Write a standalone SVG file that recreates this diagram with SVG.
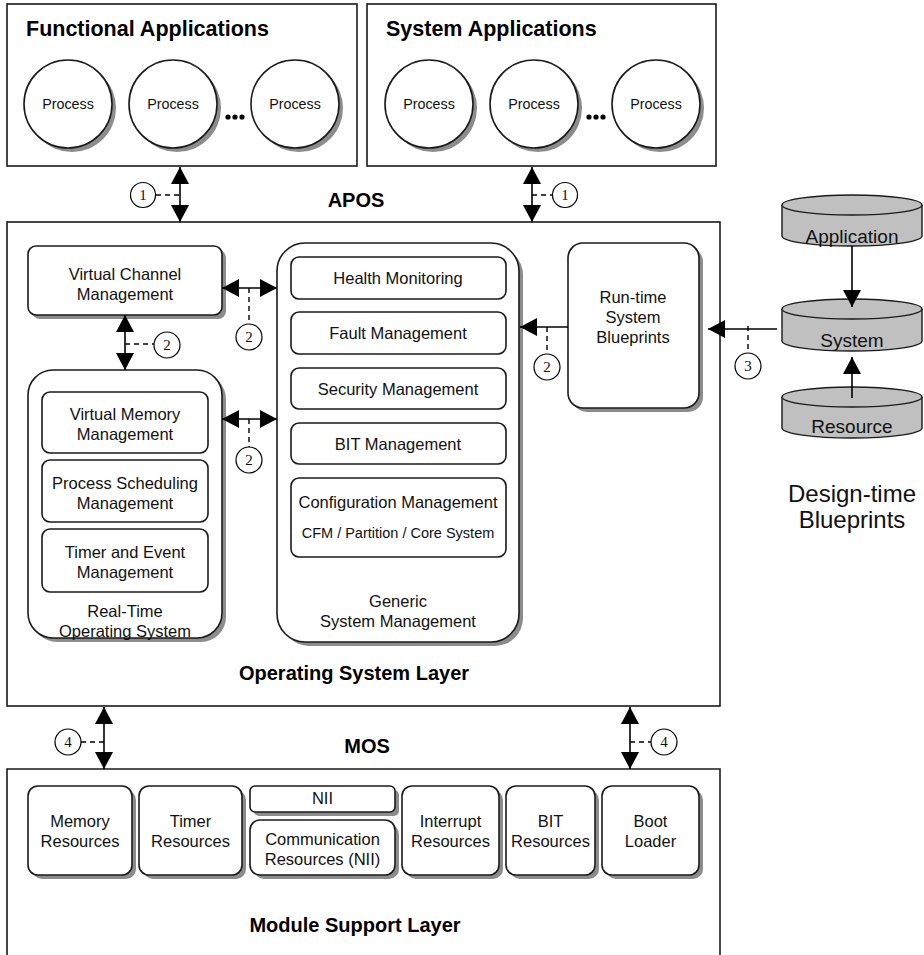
<svg xmlns="http://www.w3.org/2000/svg" width="924" height="955" viewBox="0 0 924 955">
<defs>
<style>
.box{fill:#fff;stroke:#1a1a1a;stroke-width:1.6}
.sh{fill:#8c8c8c;stroke:none}
.t{font-family:"Liberation Sans",Arial,sans-serif;font-size:16.5px;fill:#111;text-anchor:middle}
.tp{font-family:"Liberation Sans",Arial,sans-serif;font-size:14.3px;fill:#111;text-anchor:middle}
.ts{font-family:"Liberation Sans",Arial,sans-serif;font-size:14.5px;fill:#111;text-anchor:middle}
.tb{font-family:"Liberation Sans",Arial,sans-serif;font-size:20px;font-weight:bold;fill:#000;text-anchor:middle}
.th{font-family:"Liberation Sans",Arial,sans-serif;font-size:21.5px;font-weight:bold;fill:#000}
.tc{font-family:"Liberation Sans",Arial,sans-serif;font-size:19px;fill:#111;text-anchor:middle}
.td{font-family:"Liberation Sans",Arial,sans-serif;font-size:24px;fill:#111;text-anchor:middle}
.num{font-family:"Liberation Serif","Times New Roman",serif;font-size:15px;fill:#111;text-anchor:middle}
.ln{stroke:#000;stroke-width:1.6;fill:none}
.dl{stroke:#000;stroke-width:1.4;fill:none;stroke-dasharray:5,4}
.nc{fill:#fff;stroke:#000;stroke-width:1.2}
.cyl{fill:#c0c0c0;stroke:#1a1a1a;stroke-width:1.4}
.dot{fill:#000}
</style>
<marker id="ah" viewBox="0 0 17 18" refX="17" refY="9" markerWidth="17" markerHeight="18" markerUnits="userSpaceOnUse" orient="auto-start-reverse">
<path d="M0,0 L17,9 L0,18 z" fill="#000"/>
</marker>
</defs>
<rect width="924" height="955" fill="#fff"/>

<g id="functional-applications">
<rect class="box" x="7" y="4" width="350" height="162"/>
<text class="th" x="26" y="36">Functional Applications</text>
<circle class="sh" cx="72" cy="108" r="44"/>
<circle class="box" cx="68" cy="104" r="44"/>
<text class="tp" x="68" y="109">Process</text>
<circle class="sh" cx="177" cy="108" r="44"/>
<circle class="box" cx="173" cy="104" r="44"/>
<text class="tp" x="173" y="109">Process</text>
<circle class="dot" cx="228" cy="117" r="2.6"/>
<circle class="dot" cx="235" cy="117" r="2.6"/>
<circle class="dot" cx="242" cy="117" r="2.6"/>
<circle class="sh" cx="299" cy="108" r="44"/>
<circle class="box" cx="295" cy="104" r="44"/>
<text class="tp" x="295" y="109">Process</text>
</g>

<g id="system-applications">
<rect class="box" x="367" y="4" width="349" height="162"/>
<text class="th" x="386" y="36">System Applications</text>
<circle class="sh" cx="433" cy="108" r="44"/>
<circle class="box" cx="429" cy="104" r="44"/>
<text class="tp" x="429" y="109">Process</text>
<circle class="sh" cx="538" cy="108" r="44"/>
<circle class="box" cx="534" cy="104" r="44"/>
<text class="tp" x="534" y="109">Process</text>
<circle class="dot" cx="589" cy="117" r="2.6"/>
<circle class="dot" cx="596" cy="117" r="2.6"/>
<circle class="dot" cx="603" cy="117" r="2.6"/>
<circle class="sh" cx="660" cy="108" r="44"/>
<circle class="box" cx="656" cy="104" r="44"/>
<text class="tp" x="656" y="109">Process</text>
</g>

<text class="tb" x="356" y="207">APOS</text>

<g id="operating-system-layer">
<rect class="box" x="7" y="222" width="713" height="484"/>
<text class="tb" x="354" y="680">Operating System Layer</text>
</g>

<g id="virtual-channel-management">
<rect class="sh" x="32" y="250" width="194" height="69" rx="8"/>
<rect class="box" x="28" y="246" width="194" height="69" rx="8"/>
<text class="t" x="125" y="280">Virtual Channel</text>
<text class="t" x="125" y="300">Management</text>
</g>

<g id="rtos">
<rect class="sh" x="32" y="374" width="194" height="268" rx="25"/>
<rect class="box" x="28" y="370" width="194" height="268" rx="25"/>
<text class="t" x="125" y="617">Real-Time</text>
<text class="t" x="125" y="637">Operating System</text>
</g>
<g id="virtual-memory-management">
<rect class="box" x="42" y="392" width="166" height="61" rx="8"/>
<text class="t" x="125" y="420">Virtual Memory</text>
<text class="t" x="125" y="440">Management</text>
</g>
<g id="process-scheduling-management">
<rect class="box" x="42" y="460" width="166" height="62" rx="8"/>
<text class="t" x="125" y="489">Process Scheduling</text>
<text class="t" x="125" y="509">Management</text>
</g>
<g id="timer-event-management">
<rect class="box" x="42" y="529" width="166" height="63" rx="8"/>
<text class="t" x="125" y="558">Timer and Event</text>
<text class="t" x="125" y="578">Management</text>
</g>

<g id="generic-system-management">
<rect class="sh" x="281" y="247" width="242" height="399" rx="28"/>
<rect class="box" x="277" y="243" width="242" height="399" rx="28"/>
<text class="t" x="398" y="607">Generic</text>
<text class="t" x="398" y="627">System Management</text>
</g>
<g id="health-monitoring">
<rect class="box" x="291" y="257" width="215" height="42" rx="8"/>
<text class="t" x="398" y="284">Health Monitoring</text>
</g>
<g id="fault-management">
<rect class="box" x="291" y="312" width="215" height="42" rx="8"/>
<text class="t" x="398" y="339">Fault Management</text>
</g>
<g id="security-management">
<rect class="box" x="291" y="368" width="215" height="41" rx="8"/>
<text class="t" x="398" y="394.5">Security Management</text>
</g>
<g id="bit-management">
<rect class="box" x="291" y="423" width="215" height="41" rx="8"/>
<text class="t" x="398" y="449.5">BIT Management</text>
</g>
<g id="configuration-management">
<rect class="box" x="291" y="478" width="215" height="79" rx="8"/>
<text class="t" x="398" y="508">Configuration Management</text>
<text class="ts" x="398" y="538">CFM / Partition / Core System</text>
</g>

<g id="runtime-system-blueprints">
<rect class="sh" x="572" y="247" width="131" height="165" rx="15"/>
<rect class="box" x="568" y="243" width="131" height="165" rx="15"/>
<text class="t" x="633" y="303">Run-time</text>
<text class="t" x="633" y="323">System</text>
<text class="t" x="633" y="343">Blueprints</text>
</g>

<g id="application-db">
<path class="cyl" d="M782,205 L782,236 A70,10 0 0 0 922,236 L922,205"/>
<ellipse class="cyl" cx="852" cy="205" rx="70" ry="10"/>
<text class="tc" x="852" y="243">Application</text>
</g>
<g id="system-db">
<path class="cyl" d="M782,309 L782,341 A70,10 0 0 0 922,341 L922,309"/>
<ellipse class="cyl" cx="852" cy="309" rx="70" ry="10"/>
<text class="tc" x="852" y="347">System</text>
</g>
<g id="resource-db">
<path class="cyl" d="M782,397 L782,428 A70,10 0 0 0 922,428 L922,397"/>
<ellipse class="cyl" cx="852" cy="397" rx="70" ry="10"/>
<text class="tc" x="852" y="433">Resource</text>
</g>
<g id="design-time-label">
<text class="td" x="852" y="502">Design-time</text>
<text class="td" x="852" y="528">Blueprints</text>
</g>

<text class="tb" x="367" y="753">MOS</text>

<g id="module-support-layer">
<path class="box" d="M7,960 L7,769 L720,769 L720,960"/>
<text class="tb" x="355" y="932">Module Support Layer</text>
</g>
<g id="memory-resources">
<rect class="sh" x="32" y="790" width="104" height="89" rx="10"/>
<rect class="box" x="28" y="786" width="104" height="89" rx="10"/>
<text class="t" x="80" y="827">Memory</text>
<text class="t" x="80" y="847">Resources</text>
</g>
<g id="timer-resources">
<rect class="sh" x="143" y="790" width="103" height="89" rx="10"/>
<rect class="box" x="139" y="786" width="103" height="89" rx="10"/>
<text class="t" x="190.5" y="827">Timer</text>
<text class="t" x="190.5" y="847">Resources</text>
</g>
<g id="nii">
<rect class="sh" x="254" y="790" width="145" height="26" rx="5"/>
<rect class="box" x="250" y="786" width="145" height="26" rx="5"/>
<text class="t" x="322.5" y="804">NII</text>
</g>
<g id="communication-resources">
<rect class="sh" x="254" y="824" width="145" height="55" rx="10"/>
<rect class="box" x="250" y="820" width="145" height="55" rx="10"/>
<text class="t" x="322.5" y="845">Communication</text>
<text class="t" x="322.5" y="865">Resources (NII)</text>
</g>
<g id="interrupt-resources">
<rect class="sh" x="406" y="790" width="97" height="89" rx="10"/>
<rect class="box" x="402" y="786" width="97" height="89" rx="10"/>
<text class="t" x="450.5" y="827">Interrupt</text>
<text class="t" x="450.5" y="847">Resources</text>
</g>
<g id="bit-resources">
<rect class="sh" x="510" y="790" width="89" height="89" rx="10"/>
<rect class="box" x="506" y="786" width="89" height="89" rx="10"/>
<text class="t" x="550.5" y="827">BIT</text>
<text class="t" x="550.5" y="847">Resources</text>
</g>
<g id="boot-loader">
<rect class="sh" x="606" y="790" width="97" height="89" rx="10"/>
<rect class="box" x="602" y="786" width="97" height="89" rx="10"/>
<text class="t" x="650.5" y="827">Boot</text>
<text class="t" x="650.5" y="847">Loader</text>
</g>

<g id="connectors">
<!-- APOS -->
<line class="ln" x1="180" y1="167" x2="180" y2="222" marker-start="url(#ah)" marker-end="url(#ah)"/>
<line class="dl" x1="156" y1="195" x2="180" y2="195"/>
<circle class="nc" cx="143" cy="195" r="12.5"/>
<text class="num" x="143" y="200">1</text>
<line class="ln" x1="532" y1="167" x2="532" y2="222" marker-start="url(#ah)" marker-end="url(#ah)"/>
<line class="dl" x1="532" y1="195" x2="552" y2="195"/>
<circle class="nc" cx="565" cy="195" r="12.5"/>
<text class="num" x="565" y="200">1</text>
<!-- VCM - RTOS -->
<line class="ln" x1="125" y1="315" x2="125" y2="370" marker-start="url(#ah)" marker-end="url(#ah)"/>
<line class="dl" x1="125" y1="344" x2="154" y2="344"/>
<circle class="nc" cx="167" cy="345" r="13"/>
<text class="num" x="167" y="350">2</text>
<!-- VCM - GSM -->
<line class="ln" x1="222" y1="288" x2="277" y2="288" marker-start="url(#ah)" marker-end="url(#ah)"/>
<line class="dl" x1="249" y1="288" x2="249" y2="324"/>
<circle class="nc" cx="249" cy="337" r="13"/>
<text class="num" x="249" y="342">2</text>
<!-- RTOS - GSM -->
<line class="ln" x1="222" y1="419" x2="277" y2="419" marker-start="url(#ah)" marker-end="url(#ah)"/>
<line class="dl" x1="249" y1="419" x2="249" y2="447"/>
<circle class="nc" cx="249" cy="460" r="13"/>
<text class="num" x="249" y="465">2</text>
<!-- RTB -> GSM -->
<line class="ln" x1="568" y1="327" x2="520" y2="327" marker-end="url(#ah)"/>
<line class="dl" x1="547" y1="327" x2="547" y2="354"/>
<circle class="nc" cx="547" cy="367" r="13"/>
<text class="num" x="547" y="372">2</text>
<!-- System DB -> OS -->
<line class="ln" x1="777" y1="329" x2="708" y2="329" marker-end="url(#ah)"/>
<line class="dl" x1="748" y1="326" x2="748" y2="353"/>
<circle class="nc" cx="748" cy="366" r="13"/>
<text class="num" x="748" y="371">3</text>
<!-- Application -> System -->
<line class="ln" x1="852" y1="246" x2="852" y2="307" marker-end="url(#ah)"/>
<!-- Resource -> System -->
<line class="ln" x1="852" y1="398" x2="852" y2="357" marker-end="url(#ah)"/>
<!-- MOS -->
<line class="ln" x1="104" y1="707" x2="104" y2="769" marker-start="url(#ah)" marker-end="url(#ah)"/>
<line class="dl" x1="81" y1="742" x2="104" y2="742"/>
<circle class="nc" cx="68" cy="742" r="13"/>
<text class="num" x="68" y="747">4</text>
<line class="ln" x1="630" y1="707" x2="630" y2="769" marker-start="url(#ah)" marker-end="url(#ah)"/>
<line class="dl" x1="630" y1="742" x2="651" y2="742"/>
<circle class="nc" cx="664" cy="742" r="13"/>
<text class="num" x="664" y="747">4</text>
</g>
</svg>
